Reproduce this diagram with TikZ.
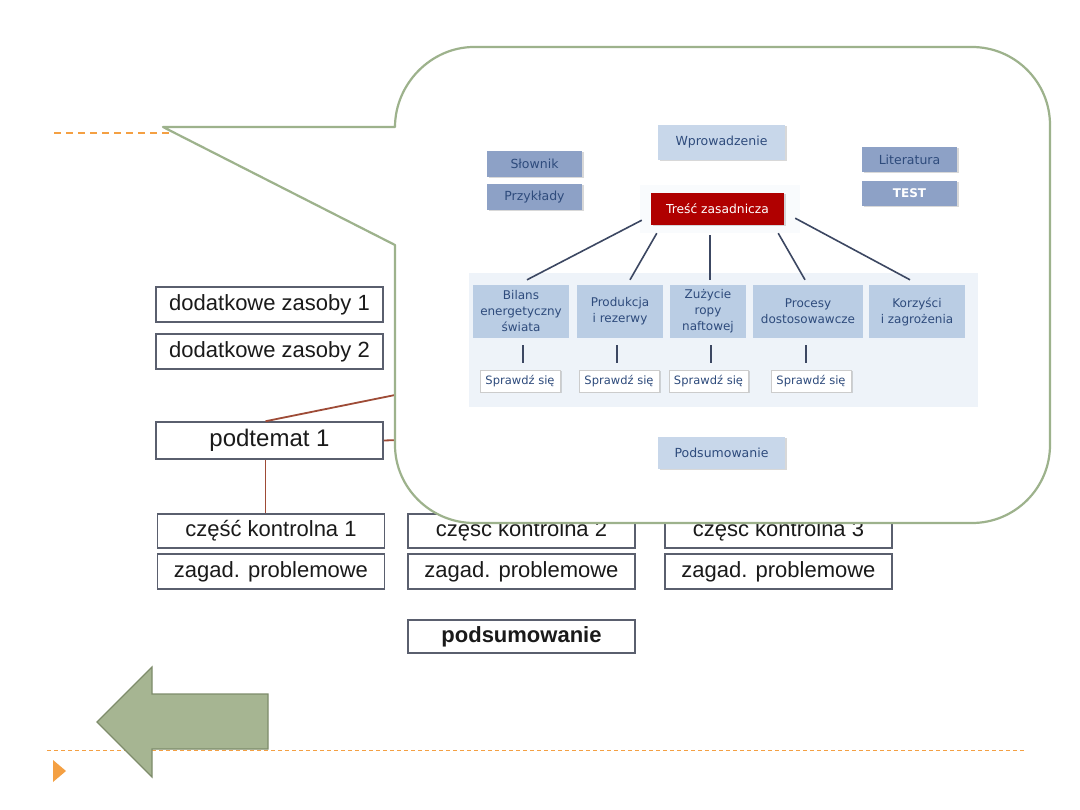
\documentclass[tikz,border=0pt]{standalone}
\usepackage{fontspec}
\setmainfont{Liberation Sans}
\newfontfamily\verd{DejaVu Sans}
\usetikzlibrary{calc,shadows}
\definecolor{boxedge}{HTML}{5A5F6E}
\definecolor{maintext}{HTML}{1A1A1A}
\definecolor{linkred}{HTML}{9E4B36}
\definecolor{calloutedge}{HTML}{9DB28C}
\definecolor{arrowfill}{HTML}{A6B592}
\definecolor{arrowedge}{HTML}{7E8C6B}
\definecolor{dashorange}{HTML}{F4A043}
\definecolor{lightblue}{HTML}{C8D7EA}
\definecolor{midblue}{HTML}{8DA1C6}
\definecolor{topicblue}{HTML}{BACDE4}
\definecolor{bandblue}{HTML}{EEF3F9}
\definecolor{darkbluetext}{HTML}{2E4B7C}
\definecolor{redbox}{HTML}{B00000}
\definecolor{innerline}{HTML}{3C4762}
\begin{document}
\begin{tikzpicture}[x=1pt,y=-1pt,
  mainbox/.style={draw=boxedge,line width=1.5pt,fill=white,text=maintext,
    minimum width=227pt,minimum height=35pt,inner sep=0pt,
    font=\fontsize{22}{24}\selectfont},
  link/.style={draw=linkred,line width=1.8pt},
  ishadow/.style={drop shadow={shadow xshift=1.5pt,shadow yshift=-1.5pt,opacity=0.3,fill=black!50}},
  lightbtn/.style={fill=lightblue,ishadow,text=darkbluetext,inner sep=0pt,
    minimum width=127pt,font=\verd\fontsize{12.5}{15}\selectfont},
  midbtn/.style={fill=midblue,ishadow,text=darkbluetext,inner sep=0pt,
    minimum width=95pt,minimum height=26pt,font=\verd\fontsize{12.5}{15}\selectfont},
  topic/.style={fill=topicblue,text=darkbluetext,inner sep=0pt,align=center,
    minimum height=53pt,font=\verd\fontsize{12}{16}\selectfont},
  checkbtn/.style={fill=white,draw=black!20,ishadow,text=darkbluetext,inner sep=0pt,
    minimum width=80pt,minimum height=22pt,font=\verd\fontsize{11.5}{14}\selectfont},
  iline/.style={draw=innerline,line width=1.6pt}
]
\useasboundingbox (0,0) rectangle (1080,810);
\fill[white] (0,0) rectangle (1080,810);

% dashed guide lines
\draw[dashorange,line width=1.6pt,dash pattern=on 7pt off 5pt] (54,133) -- (400,133);
\draw[dashorange,line width=1pt,dash pattern=on 4pt off 3pt] (47,750) -- (1025,750);
\fill[dashorange] (53,760) -- (66,771) -- (53,782) -- cycle;

% green back arrow
\filldraw[fill=arrowfill,draw=arrowedge,line width=1.2pt]
  (97,722) -- (152,667) -- (152,694) -- (268,694) -- (268,749) -- (152,749) -- (152,777) -- cycle;

% underlying slide boxes
\node[mainbox] (dz1) at (269.5,304.5) {dodatkowe zasoby 1};
\node[mainbox] (dz2) at (269.5,351.5) {dodatkowe zasoby 2};
\node[mainbox,minimum height=37pt,font=\fontsize{24}{26}\selectfont] (pt1) at (269.5,440.5) {podtemat 1};
\node[mainbox,minimum height=34pt] (ck1) at (271,531) {część kontrolna 1};
\node[mainbox] (zg1) at (271,571.5) {zagad. problemowe};
\node[mainbox,minimum height=34pt] (ck2) at (521.5,531) {część kontrolna 2};
\node[mainbox] (zg2) at (521.5,571.5) {zagad. problemowe};
\node[mainbox,minimum height=34pt] (ck3) at (778.5,531) {część kontrolna 3};
\node[mainbox] (zg3) at (778.5,571.5) {zagad. problemowe};
\node[mainbox,minimum height=33pt,font=\fontsize{22}{24}\selectfont\bfseries] (pods) at (521.5,636.5) {podsumowanie};

\coordinate (hidA) at (400,394);
\coordinate (hidB) at (400,440);
\draw[link] ($(pt1.north)+(-4,0)$) -- (hidA);
\draw[link] (pt1.east) -- (hidB);
\draw[link] ($(pt1.south)+(-4,0)$) -- ($(pt1.south |- ck1.north)+(-4,0)$);

% callout
\filldraw[fill=white,draw=calloutedge,line width=2.2pt,line join=round]
  (163,127) -- (395,127)
  .. controls (395,84) and (431,47) .. (474,47)
  -- (972,47)
  .. controls (1015,47) and (1050,82) .. (1050,125)
  -- (1050,445)
  .. controls (1050,488) and (1015,523) .. (972,523)
  -- (474,523)
  .. controls (431,523) and (395,488) .. (395,445)
  -- (395,245) -- cycle;

% inner screenshot
\fill[bandblue] (469,273) rectangle (978,407);
\fill[bandblue!35] (640,185) rectangle (800,233);

\node[lightbtn,minimum height=35pt] (wpr) at (721.5,142.5) {Wprowadzenie};
\node[midbtn] (slo) at (534.5,164) {Słownik};
\node[midbtn] (prz) at (534.5,197) {Przykłady};
\node[midbtn,minimum height=25pt] (lit) at (909.5,159.5) {Literatura};
\node[midbtn,minimum height=25pt,text=white,font=\verd\fontsize{12}{15}\selectfont\bfseries] (tst) at (909.5,193.5) {TEST};
\node[fill=redbox,ishadow,text=white,inner sep=0pt,minimum width=133pt,minimum height=32pt,
  font=\verd\fontsize{12.3}{15}\selectfont] (tr) at (717.5,209) {Treść zasadnicza};

\node[topic,minimum width=96pt] (bil) at (521,311.5) {Bilans\\energetyczny\\świata};
\node[topic,minimum width=86pt] (pro) at (620,311.5) {Produkcja\\i rezerwy};
\node[topic,minimum width=76pt] (zuz) at (708,311.5) {Zużycie\\ropy\\naftowej};
\node[topic,minimum width=110pt] (prc) at (808,311.5) {Procesy\\dostosowawcze};
\node[topic,minimum width=96pt] (kor) at (917,311.5) {Korzyści\\i zagrożenia};

\node[checkbtn] (sp1) at (520,381) {Sprawdź się};
\node[checkbtn] (sp2) at (619,381) {Sprawdź się};
\node[checkbtn,minimum width=79pt] (sp3) at (708.5,381) {Sprawdź się};
\node[checkbtn] (sp4) at (811,381) {Sprawdź się};

\node[lightbtn,minimum height=32pt] (pod) at (721.5,453) {Podsumowanie};

\draw[iline] ($(tr.south west)+(-9,-5)$) -- ($(bil.north)+(6,-5)$);
\draw[iline] ($(tr.south west)+(6,8)$) -- ($(pro.north)+(10,-5)$);
\draw[iline] ($(tr.south)+(-7.5,10)$) -- ($(zuz.north)+(2,-5)$);
\draw[iline] ($(tr.south east)+(-6,8)$) -- ($(prc.north)+(-3,-5)$);
\draw[iline] ($(tr.south east)+(11,-7)$) -- ($(kor.north)+(-7,-5)$);

\draw[iline,shorten <=7pt,shorten >=7pt] ($(bil.south)+(2,0)$) -- ($(bil.south |- sp1.north)+(2,0)$);
\draw[iline,shorten <=7pt,shorten >=7pt] ($(pro.south)+(-3,0)$) -- ($(pro.south |- sp2.north)+(-3,0)$);
\draw[iline,shorten <=7pt,shorten >=7pt] ($(zuz.south)+(3,0)$) -- ($(zuz.south |- sp3.north)+(3,0)$);
\draw[iline,shorten <=7pt,shorten >=7pt] ($(prc.south)+(-2,0)$) -- ($(prc.south |- sp4.north)+(-2,0)$);
\end{tikzpicture}
\end{document}
